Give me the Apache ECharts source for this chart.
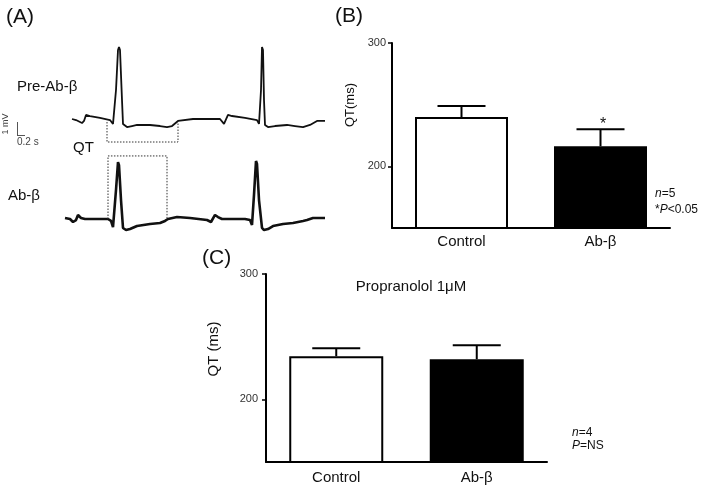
<!DOCTYPE html>
<html><head><meta charset="utf-8">
<script src="https://cdn.jsdelivr.net/npm/echarts@6/dist/echarts.min.js"></script>
<style>html,body{margin:0;padding:0;background:#fff}#c{width:709px;height:488px}</style>
</head><body><div id="c"></div>
<script>
// Panel A traces: [time (s), voltage (mV)]
const preTrace = [
  [0.00,0.00],[0.04,-0.08],[0.10,-0.31],[0.12,-0.15],[0.14,0.31],[0.18,0.23],[0.28,0.08],
  [0.38,-0.08],[0.41,-0.38],[0.44,2.23],[0.46,5.31],[0.47,5.54],[0.48,5.31],[0.50,1.46],
  [0.51,-0.38],[0.55,-0.62],[0.60,-0.54],[0.65,-0.46],[0.78,-0.46],[0.88,-0.54],[0.95,-0.62],
  [1.00,-0.54],[1.06,-0.15],[1.21,0.00],[1.48,0.00],[1.50,-0.08],[1.52,-0.38],[1.54,-0.23],
  [1.56,0.31],[1.60,0.23],[1.73,0.08],[1.85,-0.08],[1.87,-0.38],[1.89,2.23],[1.90,5.54],
  [1.91,5.31],[1.92,1.46],[1.93,-0.46],[1.96,-0.62],[2.03,-0.54],[2.15,-0.46],[2.23,-0.54],
  [2.31,-0.62],[2.38,-0.46],[2.45,-0.15],[2.53,-0.15]
];
const abTrace = [
  [-0.07,0.08],[-0.02,0.00],[0.01,-0.23],[0.04,-0.08],[0.06,0.31],[0.09,0.08],[0.13,0.00],
  [0.36,0.00],[0.39,-0.15],[0.41,-0.62],[0.44,2.23],[0.46,4.38],[0.47,4.15],[0.49,1.46],
  [0.51,-0.69],[0.54,-0.85],[0.58,-0.77],[0.65,-0.54],[0.78,-0.38],[0.88,-0.31],[0.93,-0.15],
  [0.96,0.00],[1.05,0.15],[1.18,0.08],[1.35,-0.08],[1.39,-0.23],[1.41,-0.31],[1.43,0.31],
  [1.46,0.15],[1.50,0.00],[1.73,0.00],[1.78,-0.08],[1.80,-0.46],[1.82,1.85],[1.84,4.46],
  [1.85,4.23],[1.87,1.46],[1.90,-0.69],[1.92,-0.85],[1.96,-0.77],[2.01,-0.54],[2.11,-0.38],
  [2.21,-0.31],[2.31,-0.15],[2.35,-0.08],[2.41,0.08],[2.53,0.08]
];
const preQTBox = [[0.35,-0.23],[0.35,-1.77],[1.06,-1.77],[1.06,-0.23]];
const abQTBox = [[0.36,0.00],[0.36,4.85],[0.95,4.85],[0.95,0.00]];

// Panels B and C
const barCategories = ['Control', 'Ab-β'];
const qtMeanB = [240, 216.3];
const qtSemB = [9, 13.7];
const qtMeanC = [234.4, 232];
const qtSemC = [6.4, 11.2];
const qtTicks = [200, 300];

const FONT = 'Liberation Sans, Arial, Helvetica, sans-serif';
const INK = '#000';

function errRender(capHalf) {
  return function (params, api) {
    const x = api.value(0), m = api.value(1), e = api.value(2);
    const p0 = api.coord([x, m]);
    const p1 = api.coord([x, m + e]);
    const st = { stroke: INK, lineWidth: 2 };
    return { type: 'group', children: [
      { type: 'line', shape: { x1: p0[0], y1: p0[1], x2: p1[0], y2: p1[1] }, style: st },
      { type: 'line', shape: { x1: p1[0] - capHalf, y1: p1[1], x2: p1[0] + capHalf, y2: p1[1] }, style: st }
    ]};
  };
}

const hiddenX = (gi) => ({ type: 'value', gridIndex: gi, min: -0.1, max: 2.6, show: false });
const hiddenY = (gi) => ({ type: 'value', gridIndex: gi, min: -2, max: 6, show: false });
const catX = (gi, margin) => ({
  type: 'category', gridIndex: gi, data: barCategories,
  axisLine: { lineStyle: { color: INK, width: 2 } },
  axisTick: { show: false },
  axisLabel: { color: '#111', fontSize: 15, fontFamily: FONT, margin: margin }
});
const qtY = (gi, margin, tickLen) => ({
  type: 'value', gridIndex: gi, min: 150, max: 300,
  splitLine: { show: false },
  axisLine: { show: true, lineStyle: { color: INK, width: 2 } },
  axisTick: { show: true, length: tickLen, customValues: qtTicks, lineStyle: { color: INK, width: 1.5 } },
  axisLabel: { customValues: qtTicks, color: '#333', fontSize: 11, fontFamily: FONT, margin: margin }
});

const txt = (x, y, text, size, extra) => ({
  type: 'text', x: x, y: y, z: 100,
  style: Object.assign({ text: text, fill: '#111', font: size + 'px ' + FONT, verticalAlign: 'middle', align: 'left' }, extra || {})
});

const chart = echarts.init(document.getElementById('c'), null, { renderer: 'canvas' });
chart.setOption({
  animation: false,
  backgroundColor: '#fff',
  grid: [
    { left: 62, top: 41, width: 270, height: 104, outerBoundsMode: 'none' },
    { left: 62, top: 141, width: 270, height: 104, outerBoundsMode: 'none' },
    { left: 392, top: 43, width: 278, height: 185, outerBoundsMode: 'none' },
    { left: 266, top: 274, width: 281, height: 188, outerBoundsMode: 'none' }
  ],
  xAxis: [hiddenX(0), hiddenX(1), catX(2, 6), catX(3, 8)],
  yAxis: [hiddenY(0), hiddenY(1), qtY(2, 6, 4), qtY(3, 8, 4)],
  series: [
    { type: 'line', xAxisIndex: 0, yAxisIndex: 0, data: preTrace, showSymbol: false, clip: false,
      lineStyle: { color: '#111', width: 1.8 } },
    { type: 'line', xAxisIndex: 1, yAxisIndex: 1, data: abTrace, showSymbol: false, clip: false,
      lineStyle: { color: '#111', width: 2.6 } },
    { type: 'line', xAxisIndex: 0, yAxisIndex: 0, data: preQTBox, showSymbol: false, clip: false,
      lineStyle: { color: '#333', width: 1, type: [1.5, 1.5] } },
    { type: 'line', xAxisIndex: 1, yAxisIndex: 1, data: abQTBox, showSymbol: false, clip: false,
      lineStyle: { color: '#333', width: 1, type: [1.5, 1.5] } },
    { type: 'bar', xAxisIndex: 2, yAxisIndex: 2, barWidth: 93,
      data: qtMeanB.map((v, i) => ({ value: v, itemStyle: i === 0 ? { color: '#fff', borderColor: INK, borderWidth: 2 } : { color: INK } })) },
    { type: 'custom', xAxisIndex: 2, yAxisIndex: 2, renderItem: errRender(24), z: 5,
      encode: { x: 0, y: 1 },
      data: qtMeanB.map((v, i) => [i, v, qtSemB[i]]) },
    { type: 'bar', xAxisIndex: 3, yAxisIndex: 3, barWidth: 94,
      data: qtMeanC.map((v, i) => ({ value: v, itemStyle: i === 0 ? { color: '#fff', borderColor: INK, borderWidth: 2 } : { color: INK } })) },
    { type: 'custom', xAxisIndex: 3, yAxisIndex: 3, renderItem: errRender(24), z: 5,
      encode: { x: 0, y: 1 },
      data: qtMeanC.map((v, i) => [i, v, qtSemC[i]]) }
  ],
  graphic: [
    txt(6, 17, '(A)', 21),
    txt(335, 16, '(B)', 21),
    txt(202, 258, '(C)', 21),
    txt(17, 87, 'Pre-Ab-β', 15),
    txt(73, 148, 'QT', 15),
    txt(8, 196, 'Ab-β', 15),
    // scale bar
    { type: 'line', z: 100, shape: { x1: 17.5, y1: 122, x2: 17.5, y2: 135.5 }, style: { stroke: '#555', lineWidth: 1 } },
    { type: 'line', z: 100, shape: { x1: 17, y1: 135.5, x2: 25, y2: 135.5 }, style: { stroke: '#555', lineWidth: 1 } },
    { type: 'text', z: 100, x: 6, y: 124, rotation: Math.PI / 2,
      style: { text: '1 mV', fill: '#444', font: '9px ' + FONT, align: 'center', verticalAlign: 'middle' } },
    txt(17, 142, '0.2 s', 10, { fill: '#444' }),
    // Panel B annotations
    { type: 'text', z: 100, x: 350, y: 105, rotation: Math.PI / 2,
      style: { text: 'QT(ms)', fill: '#111', font: '13px ' + FONT, align: 'center', verticalAlign: 'middle' } },
    txt(603, 125, '*', 16, { align: 'center' }),
    { type: 'text', z: 100, x: 655, y: 194,
      style: { text: '{i|n}=5', fill: '#111', font: '12px ' + FONT, verticalAlign: 'middle',
        rich: { i: { fontStyle: 'italic', fontSize: 12, fontFamily: FONT, fill: '#111' } } } },
    { type: 'text', z: 100, x: 655, y: 210,
      style: { text: '*{i|P}<0.05', fill: '#111', font: '12px ' + FONT, verticalAlign: 'middle',
        rich: { i: { fontStyle: 'italic', fontSize: 12, fontFamily: FONT, fill: '#111' } } } },
    // Panel C annotations
    txt(411, 287, 'Propranolol 1μM', 15, { align: 'center' }),
    { type: 'text', z: 100, x: 214, y: 349, rotation: Math.PI / 2,
      style: { text: 'QT (ms)', fill: '#111', font: '15px ' + FONT, align: 'center', verticalAlign: 'middle' } },
    { type: 'text', z: 100, x: 572, y: 433,
      style: { text: '{i|n}=4', fill: '#111', font: '12px ' + FONT, verticalAlign: 'middle',
        rich: { i: { fontStyle: 'italic', fontSize: 12, fontFamily: FONT, fill: '#111' } } } },
    { type: 'text', z: 100, x: 572, y: 446,
      style: { text: '{i|P}=NS', fill: '#111', font: '12px ' + FONT, verticalAlign: 'middle',
        rich: { i: { fontStyle: 'italic', fontSize: 12, fontFamily: FONT, fill: '#111' } } } }
  ]
});
</script>
</body></html>
